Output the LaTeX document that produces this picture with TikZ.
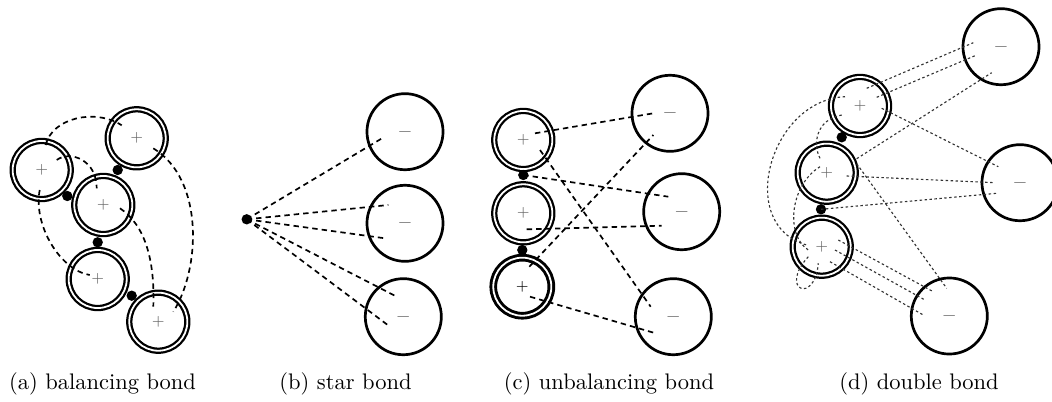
\documentclass[tikz,border=0pt]{standalone}
\begin{document}
\begin{tikzpicture}[x=0.4444pt,y=-0.4444pt,
  pnode/.style={circle,draw,line width=1pt,double,double distance=0.8pt,minimum size=25.8pt,inner sep=0pt,text=black!60,font=\fontsize{6.5}{7}\selectfont},
  mnode/.style={circle,draw,line width=1.2pt,minimum size=33.8pt,inner sep=0pt,text=black!55,font=\fontsize{8}{9}\selectfont},
  bdot/.style={circle,fill,minimum size=4.6pt,inner sep=0pt},
  bond/.style={line width=0.75pt,dash pattern=on 2.4pt off 1.8pt},
  fbond/.style={line width=0.5pt,black!80,dash pattern=on 1.1pt off 1.1pt},
  captext/.style={font=\normalsize,inner sep=0pt}]
\useasboundingbox (0,0) rectangle (1052,402);
\clip (0,0) rectangle (1052,402);

% ---------- (a) balancing bond
\node[pnode] (A1) at (41.7,170) {+};
\node[pnode] (A2) at (136.7,138.3) {+};
\node[pnode] (A3) at (103.3,205) {+};
\node[pnode] (A4) at (97.7,279) {+};
\node[pnode] (A5) at (158.3,321.7) {+};
\node[bdot] (a13) at (67.3,196) {};
\node[bdot] (a23) at (117.7,170) {};
\node[bdot] (a34) at (97.7,242.3) {};
\node[bdot] (a45) at (131.7,295.7) {};
\draw[bond] ([shift={(4,-25)}]A1.center) .. controls (52,118) and (95,108) .. ([shift={(-15,-13)}]A2.center);
\draw[bond] ([shift={(15,-10)}]A1.center) .. controls (70,150) and (97,160) .. ([shift={(-6.6,-16.7)}]A3.center);
\draw[bond] ([shift={(-2,20)}]A1.center) .. controls (33,225) and (60,270) .. ([shift={(-8,-4)}]A4.center);
\draw[bond] ([shift={(16.7,3.3)}]A3.center) .. controls (145,225) and (155,260) .. ([shift={(-5,-15)}]A5.center);
\draw[bond] ([shift={(16.6,10)}]A2.center) .. controls (205,180) and (200,270) .. ([shift={(15,-10)}]A5.center);

% ---------- (b) star bond
\node[bdot] (Bd) at (246.7,219.3) {};
\node[mnode] (B1) at (405,131.7) {$-$};
\node[mnode] (B2) at (405,223.3) {$-$};
\node[mnode] (B3) at (403.3,316.7) {$-$};
\draw[bond] (Bd.center) -- ([shift={(-23,6.6)}]B1.center);
\draw[bond] (Bd.center) -- ([shift={(-16.7,-18.3)}]B2.center);
\draw[bond] (Bd.center) -- ([shift={(-20,15)}]B2.center);
\draw[bond] (Bd.center) -- ([shift={(-6.6,-20)}]B3.center);
\draw[bond] (Bd.center) -- ([shift={(-13.3,10)}]B3.center);

% ---------- (c) unbalancing bond
\node[pnode] (C1) at (523.3,140) {+};
\node[pnode] (C2) at (523.3,213.3) {+};
\node[pnode,line width=1.3pt,text=black] (C3) at (522.3,286.7) {+};
\node[bdot] (c12) at (523.3,175) {};
\node[bdot] (c23) at (522.3,250) {};
\node[mnode] (D1) at (670,113.3) {$-$};
\node[mnode] (D2) at (681.7,211.7) {$-$};
\node[mnode] (D3) at (673.3,316.7) {$-$};
\draw[bond] ([shift={(11.7,-6.7)}]C1.center) -- ([shift={(-16.7,0)}]D1.center);
\draw[bond] ([shift={(16.7,10)}]C1.center) -- ([shift={(-22.6,-10)}]D3.center);
\draw[bond] (c12.center) -- ([shift={(-13.4,-15)}]D2.center);
\draw[bond] ([shift={(3.4,16)}]C2.center) -- ([shift={(-20,14)}]D2.center);
\draw[bond] ([shift={(7,-20)}]C3.center) -- ([shift={(-16.7,21.7)}]D1.center);
\draw[bond] ([shift={(7.7,10)}]C3.center) -- ([shift={(-17.6,16.6)}]D3.center);

% ---------- (d) double bond
\node[pnode] (E1) at (860,106) {+};
\node[pnode] (E2) at (826.7,172.7) {+};
\node[pnode] (E3) at (821.7,246.7) {+};
\node[bdot] (e12) at (841.7,137.3) {};
\node[bdot] (e23) at (821,209.3) {};
\node[mnode] (F1) at (1001,46.7) {$-$};
\node[mnode] (F2) at (1020,182.7) {$-$};
\node[mnode] (F3) at (949.3,316) {$-$};
\draw[fbond] ([shift={(6.7,-17.7)}]E1.center) -- ([shift={(-27.7,-4)}]F1.center);
\draw[fbond] ([shift={(16.7,-8.7)}]E1.center) -- ([shift={(-24.3,8.3)}]F1.center);
\draw[fbond] ([shift={(30,-14)}]E2.center) -- ([shift={(-9.3,26)}]F1.center);
\draw[fbond] ([shift={(21.7,2.3)}]E1.center) -- ([shift={(-21.7,-16)}]F2.center);
\draw[fbond] ([shift={(20,3.3)}]E2.center) -- ([shift={(-25,0)}]F2.center);
\draw[fbond] (e23.center) -- ([shift={(-23.3,10.6)}]F2.center);
\draw[fbond] ([shift={(30,-9)}]E2.center) -- ([shift={(-2.6,-27.7)}]F3.center);
\draw[fbond] ([shift={(16.6,-6.7)}]E3.center) -- ([shift={(-16,-24.3)}]F3.center);
\draw[fbond] ([shift={(13.3,3.3)}]E3.center) -- ([shift={(-24.3,-16)}]F3.center);
\draw[fbond] ([shift={(8.3,15)}]E3.center) -- ([shift={(-26,-1)}]F3.center);
\draw[fbond] ([shift={(-15,-9.3)}]E1.center) .. controls (770,100) and (735,225) .. ([shift={(-15,-1.7)}]E3.center);
\draw[fbond] ([shift={(-18.3,9)}]E1.center) .. controls (815,120) and (813,145) .. ([shift={(-6.7,-14.4)}]E2.center);
\draw[fbond] ([shift={(-6.7,-6)}]E2.center) .. controls (790,185) and (785,235) .. ([shift={(-13.4,3.3)}]E3.center);
\draw[fbond] ([shift={(-13.4,10)}]E3.center) .. controls (778,290) and (815,305) .. ([shift={(-3.4,16.6)}]E3.center);

% ---------- captions
\node[captext] (capa) at (102.5,384) {(a) balancing bond};
\node[captext] (capb) at (345.5,384) {(b) star bond};
\node[captext] (capc) at (609,384) {(c) unbalancing bond};
\node[captext] (capd) at (919,384) {(d) double bond};
\end{tikzpicture}
\end{document}
